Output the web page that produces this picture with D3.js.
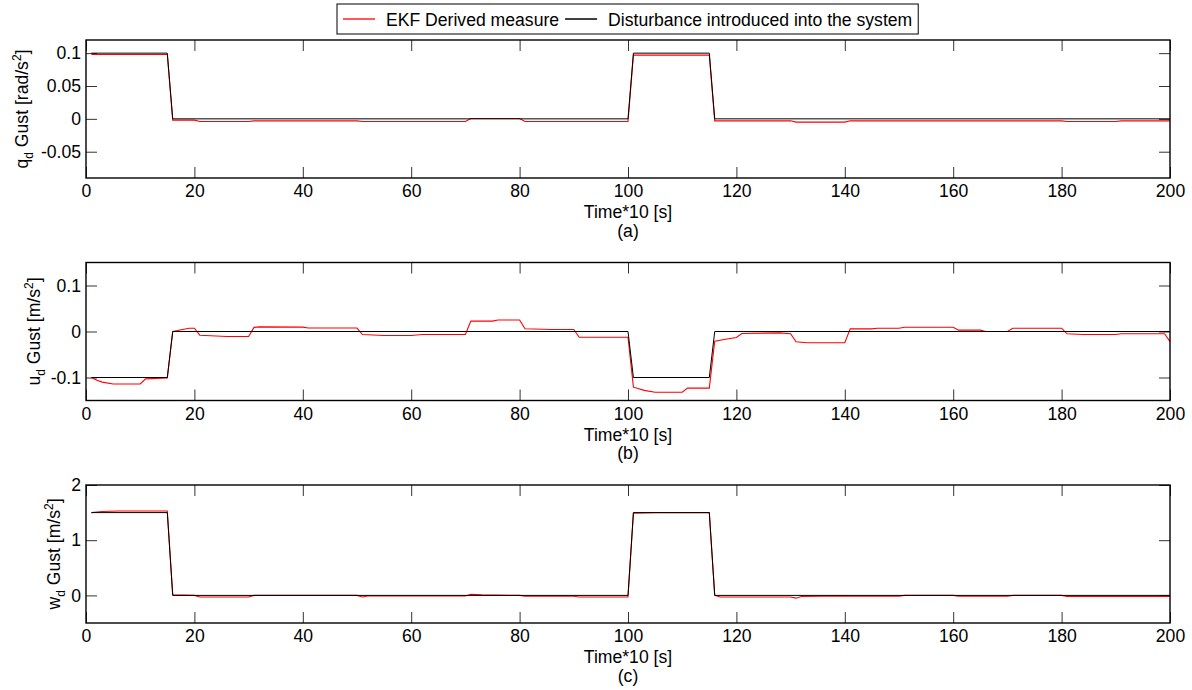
<!DOCTYPE html>
<html>
<head>
<meta charset="utf-8">
<script src="https://cdn.jsdelivr.net/npm/d3@7"></script>
<style>
  body { margin: 0; background: #fff; }
  svg text { font-family: "Liberation Sans", Arial, sans-serif; fill: #000; }
</style>
</head>
<body>
<svg width="1192" height="690"></svg>
<script>
// valores: [t, valor]
const xTicks = [0, 20, 40, 60, 80, 100, 120, 140, 160, 180, 200];

const qdDisturbance = [[1, 0.1], [15, 0.1], [16, 0], [100, 0], [101, 0.1], [115, 0.1], [116, 0], [200, 0]];
const qdEkf = [[1, 0.098], [15, 0.098], [16, -0.002], [20, -0.002], [21, -0.004], [30, -0.004], [31, -0.003],
  [50, -0.003], [51, -0.004], [70, -0.004], [71, 0.0005], [80, 0.0005], [81, -0.004], [90, -0.004],
  [91, -0.004], [100, -0.004], [101, 0.097], [115, 0.097], [116, -0.003], [130, -0.003], [131, -0.005],
  [140, -0.005], [141, -0.003], [180, -0.003], [181, -0.004], [190, -0.004], [191, -0.003], [200, -0.003]];
const qdTicks = [-0.05, 0, 0.05, 0.1];

const udDisturbance = [[1, -0.1], [15, -0.1], [16, 0], [100, 0], [101, -0.1], [115, -0.1], [116, 0], [200, 0]];
const udEkf = [[1, -0.1], [2, -0.106], [3, -0.11], [5, -0.114], [10, -0.114], [11, -0.103], [15, -0.101],
  [16, 0], [19, 0.007], [20, 0.007], [21, -0.008], [26, -0.011], [30, -0.011], [31, 0.009], [32, 0.01],
  [40, 0.0095], [41, 0.0075], [50, 0.0075], [51, -0.0066], [55, -0.0088], [60, -0.0088], [62, -0.0066],
  [70, -0.0066], [71, 0.0226], [75, 0.0226], [76, 0.025], [80, 0.025], [81, 0.0058], [86, 0.0044],
  [90, 0.0044], [91, -0.0124], [100, -0.0124], [101, -0.121], [103, -0.128], [105, -0.132], [110, -0.132],
  [111, -0.123], [115, -0.123], [116, -0.021], [118, -0.0167], [120, -0.013], [121, -0.0043], [128, -0.003],
  [130, -0.005], [131, -0.0225], [133, -0.0246], [140, -0.0246], [141, 0.0058], [145, 0.0058], [146, 0.0072],
  [150, 0.0072], [151, 0.0094], [160, 0.0094], [161, 0.0029], [165, 0.0029], [166, 0], [170, 0],
  [171, 0.0072], [180, 0.0072], [181, -0.005], [184, -0.0065], [190, -0.0065], [191, -0.005], [199, -0.005],
  [200, -0.022]];
const udTicks = [-0.1, 0, 0.1];

const wdDisturbance = [[1, 1.5], [15, 1.5], [16, 0], [100, 0], [101, 1.5], [115, 1.5], [116, 0], [200, 0]];
const wdEkf = [[1, 1.5], [3, 1.52], [6, 1.53], [15, 1.53], [16, 0.01], [20, 0], [21, -0.03], [30, -0.03],
  [31, 0], [50, 0], [51, -0.03], [52, -0.01], [70, -0.01], [71, 0.02], [73, 0.01], [80, 0], [81, -0.015],
  [90, -0.015], [91, -0.03], [100, -0.03], [101, 1.49], [105, 1.5], [115, 1.5], [116, 0], [117, -0.03],
  [130, -0.03], [131, -0.05], [132, -0.02], [140, -0.01], [141, -0.015], [150, -0.015], [151, 0], [160, 0],
  [161, -0.015], [170, -0.015], [171, 0], [180, 0], [181, -0.02], [200, -0.02]];
const wdTicks = [0, 1, 2];

const panels = [
  { ekf: qdEkf, dist: qdDisturbance, yDomain: [-0.09, 0.12], yTicks: qdTicks, sym: "q", unit: "rad/s", tag: "(a)" },
  { ekf: udEkf, dist: udDisturbance, yDomain: [-0.15, 0.15], yTicks: udTicks, sym: "u", unit: "m/s", tag: "(b)" },
  { ekf: wdEkf, dist: wdDisturbance, yDomain: [-0.5, 2], yTicks: wdTicks, sym: "w", unit: "m/s", tag: "(c)" }
];

const svg = d3.select("svg");
const left = 86, right = 1170, plotH = 138;
const tops = [40, 262.5, 485];
const ylabelX = [28, 39.5, 60];
const fs = 17.6;

const x = d3.scaleLinear().domain([0, 200]).range([left, right]);

function styleAxis(g) {
  g.select(".domain").remove();
  g.selectAll(".tick line").attr("stroke", "#333").attr("stroke-width", 1);
  g.selectAll("text").style("font-size", fs + "px").style("font-family", '"Liberation Sans", Arial, sans-serif');
}

panels.forEach((p, i) => {
  const top = tops[i], bottom = top + plotH;
  const y = d3.scaleLinear().domain(p.yDomain).range([bottom, top]);
  const g = svg.append("g");

  // ejes con marcas hacia adentro
  g.append("g").attr("transform", `translate(0,${bottom})`)
    .call(d3.axisBottom(x).tickValues(xTicks).tickSizeInner(-11).tickSizeOuter(0).tickPadding(7).tickFormat(d3.format("d")))
    .call(styleAxis);
  g.append("g").attr("transform", `translate(0,${top})`)
    .call(d3.axisTop(x).tickValues(xTicks).tickSizeInner(-11).tickSizeOuter(0).tickFormat(""))
    .call(styleAxis);
  g.append("g").attr("transform", `translate(${left},0)`)
    .call(d3.axisLeft(y).tickValues(p.yTicks).tickSizeInner(-11).tickSizeOuter(0).tickPadding(5).tickFormat(d => String(d)))
    .call(styleAxis);
  g.append("g").attr("transform", `translate(${right},0)`)
    .call(d3.axisRight(y).tickValues(p.yTicks).tickSizeInner(-11).tickSizeOuter(0).tickFormat(""))
    .call(styleAxis);

  const line = d3.line().x(d => x(d[0])).y(d => y(d[1]));
  g.append("path").datum(p.ekf).attr("d", line)
    .attr("fill", "none").attr("stroke", "#ff0000").attr("stroke-width", 1.1);
  g.append("path").datum(p.dist).attr("d", line)
    .attr("fill", "none").attr("stroke", "#000").attr("stroke-width", 1);

  g.append("rect").attr("x", left).attr("y", top).attr("width", right - left).attr("height", plotH)
    .attr("fill", "none").attr("stroke", "#000").attr("stroke-width", 1.4);

  // etiquetas
  const cx = (left + right) / 2;
  g.append("text").attr("x", cx).attr("y", bottom + 40).attr("text-anchor", "middle")
    .style("font-size", fs + "px").text("Time*10 [s]");
  g.append("text").attr("x", cx).attr("y", bottom + 58.5).attr("text-anchor", "middle")
    .style("font-size", fs + "px").text(p.tag);

  const yl = g.append("text")
    .attr("transform", `translate(${ylabelX[i]},${(top + bottom) / 2}) rotate(-90)`)
    .attr("text-anchor", "middle").style("font-size", fs + "px");
  yl.append("tspan").text(p.sym);
  yl.append("tspan").attr("dy", 5).style("font-size", "12px").text("d");
  yl.append("tspan").attr("dy", -5).text(" Gust [" + p.unit);
  yl.append("tspan").attr("dy", -7).style("font-size", "12px").text("2");
  yl.append("tspan").attr("dy", 7).text("]");
});

// leyenda
const legend = svg.append("g");
const lgTop = 4, lgH = 30, lgMid = 19;
const items = [{ label: "EKF Derived measure", color: "#ff0000" }, { label: "Disturbance introduced into the system", color: "#000" }];
const box = legend.append("rect").attr("y", lgTop).attr("height", lgH).attr("fill", "#fff")
  .attr("stroke", "#000").attr("stroke-width", 1);
let cur = 6;
items.forEach(it => {
  legend.append("line").attr("x1", cur).attr("x2", cur + 32).attr("y1", lgMid).attr("y2", lgMid)
    .attr("stroke", it.color).attr("stroke-width", 1.3);
  const tx = legend.append("text").attr("x", cur + 43).attr("y", lgMid + 6.5).style("font-size", fs + "px").text(it.label);
  cur += 43 + tx.node().getComputedTextLength() + 6;
});
const lgW = cur;
box.attr("x", 0).attr("width", lgW);
legend.attr("transform", `translate(${Math.round((left + right) / 2 - lgW / 2)},0)`);
</script>
</body>
</html>
